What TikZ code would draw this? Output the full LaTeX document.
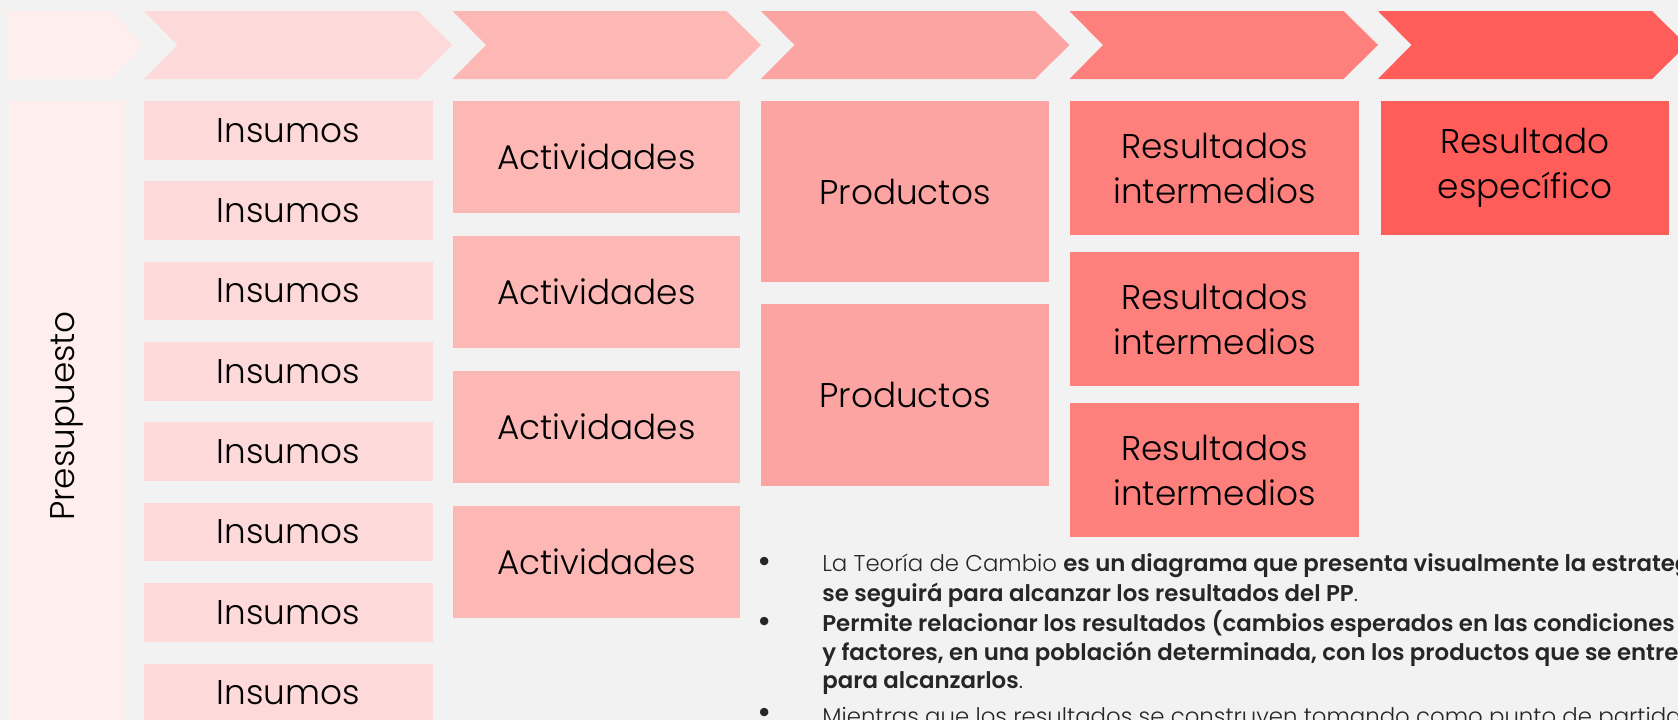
\documentclass[tikz,border=0pt]{standalone}
\usepackage{fontspec}
\setmainfont{Poppins Light}[BoldFont=Poppins SemiBold]
\usepackage{tikz}
\definecolor{fondo}{HTML}{F2F2F2}
\definecolor{tono0}{HTML}{FEEEEE}
\definecolor{tono1}{HTML}{FDD9D9}
\definecolor{tono2}{HTML}{FDB8B6}
\definecolor{tono3}{HTML}{FCA4A2}
\definecolor{tono4}{HTML}{FD807D}
\definecolor{tono5}{HTML}{FE5D5A}
\definecolor{letra}{HTML}{262626}

\begin{document}
\begin{tikzpicture}[x=0.02cm,y=-0.02cm,
	caja/.style={rectangle,inner sep=0pt,align=center,font=\fontsize{19.5}{25.6}\selectfont},
	linea/.style={anchor=base west,inner sep=0pt,text=letra,font=\fontsize{13}{15}\selectfont},
	vineta/.style={anchor=base,inner sep=0pt,text=letra,font=\fontsize{17}{15}\bfseries}]
	\useasboundingbox (0,0) rectangle (1678,720);
	\clip (0,0) rectangle (1678,720);
	\fill[fondo] (0,0) rectangle (1678,720);
	% flechas de arriba
	\fill[tono0] (8,11) -- (112,11) -- (143,45) -- (112,79) -- (8,79) -- cycle;
	\foreach \i/\col in {1/tono1,2/tono2,3/tono3,4/tono4,5/tono5}
	{
		\pgfmathsetmacro\xl{144+308.5*(\i-1)}
		\fill[\col] (\xl,11) -- (\xl+274,11) -- (\xl+308.5,45) -- (\xl+274,79) -- (\xl,79) -- (\xl+33.5,45) -- cycle;
	}
	% columnas
	\node[caja,fill=tono0,rotate=90,minimum width=12.6cm,minimum height=2.32cm] (presup) at (67,416) {Presupuesto};
	\foreach \k in {0,...,7}
	{
		\node[caja,fill=tono1,minimum width=5.78cm,minimum height=1.174cm] (ins\k) at (288.5,130.4+80.35*\k) {Insumos};
	}
	\foreach \k in {0,...,3}
	{
		\node[caja,fill=tono2,minimum width=5.76cm,minimum height=2.26cm] (act\k) at (596.5,157+135*\k) {Actividades};
	}
	\node[caja,fill=tono3,minimum width=5.76cm,minimum height=3.64cm] (prod1) at (905,191.5) {Productos};
	\node[caja,fill=tono3,minimum width=5.76cm,minimum height=3.64cm] (prod2) at (905,395) {Productos};
	\node[caja,fill=tono4,minimum width=5.78cm,minimum height=2.67cm] (resint1) at (1214.5,168) {Resultados\\intermedios};
	\node[caja,fill=tono4,minimum width=5.78cm,minimum height=2.67cm] (resint2) at (1214.5,319) {Resultados\\intermedios};
	\node[caja,fill=tono4,minimum width=5.78cm,minimum height=2.67cm] (resint3) at (1214.5,470) {Resultados\\intermedios};
	\node[caja,fill=tono5,minimum width=5.78cm,minimum height=2.68cm] (resesp) at (1525,168) {Resultado\\específico};
	% texto
	\node[vineta] (b1) at (765,571) {\textbullet};
	\node[vineta] (b2) at (765,631) {\textbullet};
	\node[vineta] (b3) at (765,722) {\textbullet};
	\node[linea] (l1) at (822,571) {La Teoría de Cambio \textbf{es un diagrama que presenta visualmente la estrategia}};
	\node[linea] (l2) at (822,601) {\textbf{se seguirá para alcanzar los resultados del PP}.};
	\node[linea] (l3) at (822,631) {\textbf{Permite relacionar los resultados (cambios esperados en las condiciones}};
	\node[linea] (l4) at (822,660) {\textbf{y factores, en una población determinada, con los productos que se entregan}};
	\node[linea] (l5) at (822,688) {\textbf{para alcanzarlos}.};
	\node[linea] (l6) at (822,724) {Mientras que los resultados se construyen tomando como punto de partida};
\end{tikzpicture}
\end{document}
